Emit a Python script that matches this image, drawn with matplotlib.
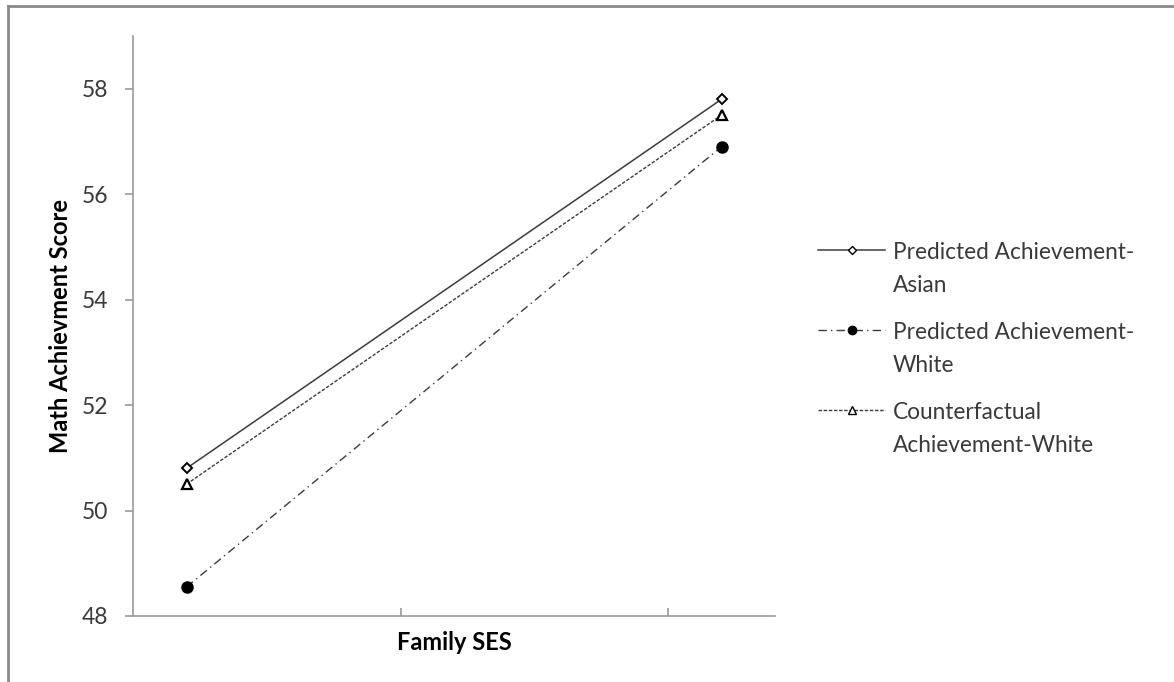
import matplotlib

matplotlib.use("Agg")
import matplotlib.pyplot as plt
from matplotlib.lines import Line2D

plt.rcParams["font.family"] = ["Lato", "DejaVu Sans"]

# data
ses = [0.0, 1.0]
asian_pred = [50.8, 57.8]
white_pred = [48.55, 56.9]
white_counter = [50.5, 57.5]
labels = [
    "Predicted Achievement-\nAsian",
    "Predicted Achievement-\nWhite",
    "Counterfactual\nAchievement-White",
]
yticks = [48, 50, 52, 54, 56, 58]

LINE = "#3c3c3c"
AXIS = "#9a9a9a"
TEXT = "#3a3a3a"
W, H = 1174, 682

fig = plt.figure(figsize=(W / 100, H / 100), dpi=100)
ax = fig.add_axes([133 / W, 1 - 616 / H, (775 - 133) / W, (616 - 36) / H])

styles = [
    dict(color=LINE, lw=1.1, ls="-", marker="D", ms=5,
         mfc="white", mec="black", mew=1.4),
    dict(color=LINE, lw=1.0, ls=(0, (6, 3, 1, 3)), marker="o", ms=8,
         mfc="black", mec="black"),
    dict(color=LINE, lw=1.0, ls=(0, (2.5, 1.2)), marker="^", ms=7,
         mfc="white", mec="black", mew=1.6),
]
for vals, st in zip([asian_pred, white_pred, white_counter], styles):
    ax.plot(ses, vals, **st)

ax.set_xlim(-0.1, 1.1)
ax.set_ylim(48, 59)
ax.set_yticks(yticks)
ax.set_xticks([0.4, 0.9])
ax.set_xticklabels(["", ""])

for side in ("top", "right"):
    ax.spines[side].set_visible(False)
for side in ("left", "bottom"):
    ax.spines[side].set_color(AXIS)
    ax.spines[side].set_linewidth(1.2)

ax.tick_params(axis="y", direction="out", length=6, color=AXIS, width=1.2,
               labelsize=16.5, labelcolor=TEXT, pad=12)
ax.tick_params(axis="x", direction="in", length=6, color=AXIS, width=1.2)

ax.set_ylabel("Math Achievment Score", fontsize=17, fontweight="bold", labelpad=7)
ax.set_xlabel("Family SES", fontsize=17, fontweight="bold", labelpad=7)

# legend drawn by hand so the key sits on the first text line, like Excel
line_keys = ("color", "lw", "ls")
for i, (lab, st) in enumerate(zip(labels, styles)):
    yc = 1 - (250 + 80 * i) / H
    fig.add_artist(Line2D([818 / W, 885 / W], [yc, yc],
                          **{k: st[k] for k in line_keys}))
    fig.add_artist(Line2D([852 / W], [yc], ls="none", marker=st["marker"],
                          ms=st["ms"] * 0.75, mfc=st["mfc"], mec=st["mec"], mew=1.0))
    fig.text(893 / W, yc + 8 / H, lab, fontsize=16.3, color=TEXT, va="top",
             ha="left", linespacing=1.7)

# thin grey frame like the exported chart area
fig.add_artist(Line2D([8 / W, 8 / W], [0, 1 - 6 / H], color="#8a8a8a", lw=2))
fig.add_artist(Line2D([8 / W, 1], [1 - 6 / H, 1 - 6 / H], color="#8a8a8a", lw=2))

fig.savefig("out.png", dpi=100)
